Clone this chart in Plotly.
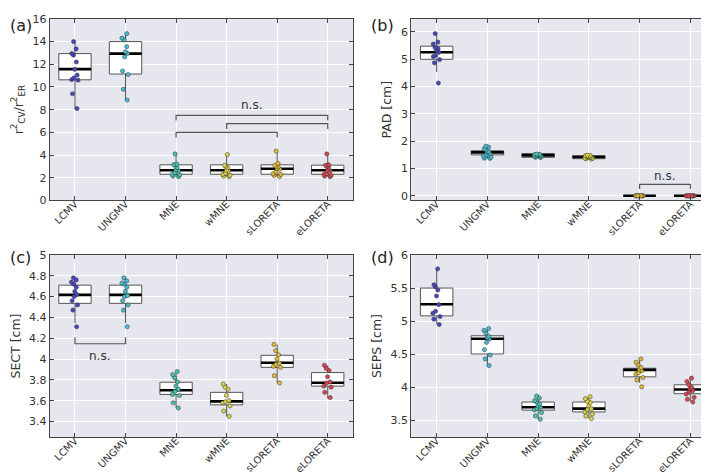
import plotly.graph_objects as go

METHODS = ["LCMV", "UNGMV", "MNE", "wMNE", "sLORETA", "eLORETA"]
COLORS = ["#4646c4", "#44bcd6", "#44c4b4", "#dcd444", "#e2bc34", "#dc4452"]

# ---------------- panel (a): r2_CV / r2_ER ----------------
A_PTS = [
    [14.0, 13.35, 12.95, 12.8, 12.2, 11.55, 11.05, 10.8, 10.65, 10.6, 9.4, 8.1],
    [14.7, 14.3, 14.15, 13.55, 13.1, 12.95, 12.65, 11.4, 11.1, 9.8, 8.85],
    [4.1, 3.2, 3.15, 3.1, 2.9, 2.7, 2.6, 2.45, 2.3, 2.25, 2.15, 2.1],
    [4.05, 3.1, 3.0, 2.9, 2.65, 2.6, 2.4, 2.3, 2.2, 2.15, 2.1],
    [4.35, 3.25, 3.1, 3.0, 2.95, 2.8, 2.75, 2.5, 2.35, 2.3, 2.2, 2.1],
    [4.1, 3.15, 3.1, 3.0, 2.9, 2.65, 2.6, 2.35, 2.3, 2.2, 2.15, 2.1],
]
A_Q1 = [10.63, 11.14, 2.31, 2.31, 2.31, 2.31]
A_MED = [11.57, 12.94, 2.66, 2.66, 2.8, 2.66]
A_Q3 = [12.94, 14.0, 3.14, 3.14, 3.14, 3.11]
A_LO = [8.09, 8.83, 2.1, 2.1, 2.1, 2.1]
A_HI = [14.0, 14.71, 4.09, 4.08, 4.34, 4.1]

# ---------------- panel (b): PAD ----------------
B_PTS = [
    [5.94, 5.63, 5.56, 5.43, 5.39, 5.32, 5.25, 5.13, 5.1, 4.99, 4.87, 4.13],
    [1.82, 1.78, 1.72, 1.68, 1.62, 1.6, 1.55, 1.5, 1.45, 1.42, 1.38, 1.37],
    [1.53, 1.52, 1.51, 1.5, 1.49, 1.48, 1.47, 1.46, 1.44, 1.43, 1.41, 1.4],
    [1.49, 1.48, 1.47, 1.45, 1.43, 1.42, 1.41, 1.4, 1.38, 1.37, 1.36, 1.35],
    [0.0, 0.0, 0.0, 0.0, 0.0, 0.0, 0.0, 0.0, 0.0, 0.0, 0.0, 0.0],
    [0.0, 0.0, 0.0, 0.0, 0.0, 0.0, 0.0, 0.0, 0.0, 0.0, 0.0, 0.0],
]
B_Q1 = [5.0, 1.5, 1.41, 1.36, 0.0, 0.0]
B_MED = [5.26, 1.59, 1.48, 1.42, 0.0, 0.0]
B_Q3 = [5.48, 1.65, 1.55, 1.47, 0.0, 0.0]
B_LO = [4.53, 1.37, 1.4, 1.35, 0.0, 0.0]
B_HI = [5.94, 1.82, 1.53, 1.49, 0.0, 0.0]

# ---------------- panel (c): SECT ----------------
C_PTS = [
    [4.78, 4.76, 4.74, 4.72, 4.69, 4.65, 4.62, 4.6, 4.56, 4.52, 4.47, 4.31],
    [4.78, 4.75, 4.73, 4.72, 4.69, 4.65, 4.61, 4.6, 4.56, 4.52, 4.47, 4.31],
    [3.88, 3.85, 3.82, 3.78, 3.74, 3.71, 3.69, 3.66, 3.65, 3.58, 3.53],
    [3.76, 3.73, 3.71, 3.65, 3.6, 3.59, 3.58, 3.55, 3.5, 3.45],
    [4.14, 4.08, 4.04, 4.0, 3.96, 3.95, 3.93, 3.92, 3.84, 3.77],
    [3.94, 3.91, 3.89, 3.83, 3.78, 3.77, 3.74, 3.73, 3.68, 3.63],
]
C_Q1 = [4.535, 4.535, 3.66, 3.56, 3.92, 3.74]
C_MED = [4.616, 4.616, 3.70, 3.593, 3.965, 3.773]
C_Q3 = [4.71, 4.71, 3.777, 3.68, 4.036, 3.87]
C_LO = [4.345, 4.345, 3.53, 3.45, 3.77, 3.62]
C_HI = [4.79, 4.78, 3.877, 3.76, 4.14, 3.94]

# ---------------- panel (d): SEPS ----------------
D_PTS = [
    [5.79, 5.55, 5.52, 5.47, 5.38, 5.25, 5.15, 5.12, 5.07, 5.03, 4.95],
    [4.89, 4.86, 4.82, 4.77, 4.75, 4.73, 4.68, 4.57, 4.49, 4.43, 4.33],
    [3.87, 3.84, 3.8, 3.78, 3.75, 3.72, 3.7, 3.68, 3.66, 3.62, 3.57, 3.52],
    [3.86, 3.83, 3.79, 3.77, 3.72, 3.68, 3.67, 3.63, 3.6, 3.57, 3.53],
    [4.43, 4.38, 4.34, 4.3, 4.27, 4.25, 4.22, 4.2, 4.15, 4.11, 4.01],
    [4.14, 4.09, 4.04, 4.0, 3.98, 3.95, 3.93, 3.9, 3.85, 3.82, 3.78],
]
D_Q1 = [5.08, 4.505, 3.657, 3.63, 4.16, 3.905]
D_MED = [5.255, 4.735, 3.70, 3.68, 4.265, 3.97]
D_Q3 = [5.5, 4.78, 3.78, 3.78, 4.29, 4.04]
D_LO = [4.96, 4.33, 3.52, 3.53, 4.07, 3.79]
D_HI = [5.79, 4.89, 3.887, 3.86, 4.43, 4.15]

Y_TITLES = ["r<sup>2</sup><sub>CV</sub>/r<sup>2</sup><sub>ER</sub>", "PAD [cm]", "SECT [cm]", "SEPS [cm]"]
PANEL_LABELS = ["(a)", "(b)", "(c)", "(d)"]

# brackets: (panel, from, to, bar y, leg end y)
BRACKETS = [
    (0, 2, 5, 7.5, 7.05),
    (0, 3, 5, 6.77, 6.3),
    (0, 2, 4, 6.0, 5.55),
    (1, 4, 5, 0.42, 0.25),
    (2, 0, 1, 4.147, 4.21),
]
NS_TEXT = [(0, 3.5, 8.45), (1, 4.5, 0.73), (2, 0.5, 4.03)]

PANELS = [
    (A_PTS, A_Q1, A_MED, A_Q3, A_LO, A_HI),
    (B_PTS, B_Q1, B_MED, B_Q3, B_LO, B_HI),
    (C_PTS, C_Q1, C_MED, C_Q3, C_LO, C_HI),
    (D_PTS, D_Q1, D_MED, D_Q3, D_LO, D_HI),
]

W, H = 709, 476
BW = 0.64
X_DOMAINS = [(41.7 / W, 345 / W), (403.3 / W, 707.7 / W), (41.7 / W, 345 / W), (403.3 / W, 707.7 / W)]
Y_DOMAINS = [(1 - 191.7 / H, 1 - 5 / H), (1 - 191.7 / H, 1 - 5 / H), (1 - 435 / H, 1 - 247.7 / H), (1 - 435 / H, 1 - 247.7 / H)]
Y_RANGES = [[0, 16], [-0.17, 6.48], [3.25, 5.0], [3.25, 6.0]]
Y_DTICK = [2, 1, 0.2, 0.5]
Y_TICK0 = [0, 0, 3.4, 3.5]

FONT = "DejaVu Sans"
fig = go.Figure()

for k, (pts, q1, med, q3, lo, hi) in enumerate(PANELS):
    xa = "x" if k == 0 else f"x{k+1}"
    ya = "y" if k == 0 else f"y{k+1}"
    for i, name in enumerate(METHODS):
        # box body + whiskers
        fig.add_trace(go.Box(
            x=[i], q1=[q1[i]], median=[med[i]], q3=[q3[i]],
            lowerfence=[lo[i]], upperfence=[hi[i]],
            width=BW, whiskerwidth=0, fillcolor="white",
            line=dict(color="#555555", width=1), boxpoints=False,
            xaxis=xa, yaxis=ya, showlegend=False, hoverinfo="skip"))
        # thick black median
        fig.add_trace(go.Box(
            x=[i], q1=[med[i]], median=[med[i]], q3=[med[i]],
            lowerfence=[med[i]], upperfence=[med[i]],
            width=BW, whiskerwidth=0, fillcolor="rgba(0,0,0,0)",
            line=dict(color="black", width=2.6), boxpoints=False,
            xaxis=xa, yaxis=ya, showlegend=False, hoverinfo="skip"))
        # jittered points
        fig.add_trace(go.Box(
            x=[i] * len(pts[i]), y=pts[i], boxpoints="all", jitter=0.3, pointpos=0,
            width=BW, fillcolor="rgba(0,0,0,0)",
            line=dict(color="rgba(0,0,0,0)", width=0),
            marker=dict(color=COLORS[i], size=4.2, line=dict(color="#333333", width=0.5)),
            xaxis=xa, yaxis=ya, showlegend=False, hoverinfo="skip"))

for (k, i, j, yb, yl) in BRACKETS:
    xa = "x" if k == 0 else f"x{k+1}"
    ya = "y" if k == 0 else f"y{k+1}"
    fig.add_trace(go.Scatter(
        x=[i, i, j, j], y=[yl, yb, yb, yl], mode="lines",
        line=dict(color="#555555", width=1.2), xaxis=xa, yaxis=ya,
        showlegend=False, hoverinfo="skip"))

annotations = []
for (k, xv, yv) in NS_TEXT:
    xa = "x" if k == 0 else f"x{k+1}"
    ya = "y" if k == 0 else f"y{k+1}"
    annotations.append(dict(x=xv, y=yv, xref=xa, yref=ya, text="n.s.", showarrow=False,
                            font=dict(family=FONT, size=12, color="#333333")))

LABEL_POS = [(0.0, 1 - 12 / H), (361 / W, 1 - 12 / H), (0.0, 1 - 250 / H), (361 / W, 1 - 250 / H)]
for k, lab in enumerate(PANEL_LABELS):
    annotations.append(dict(x=LABEL_POS[k][0], y=LABEL_POS[k][1], xref="paper", yref="paper",
                            xanchor="left", yanchor="middle", text=lab, showarrow=False,
                            font=dict(family=FONT, size=16, color="#222222")))

layout = dict(
    width=W, height=H, margin=dict(l=0, r=0, t=0, b=0),
    paper_bgcolor="white", plot_bgcolor="#e6e6ee",
    boxmode="overlay", showlegend=False,
    font=dict(family=FONT, size=11, color="#333333"),
    annotations=annotations,
)
for k in range(4):
    xk = "xaxis" if k == 0 else f"xaxis{k+1}"
    yk = "yaxis" if k == 0 else f"yaxis{k+1}"
    ya = "y" if k == 0 else f"y{k+1}"
    xa = "x" if k == 0 else f"x{k+1}"
    layout[xk] = dict(
        domain=list(X_DOMAINS[k]), anchor=ya, range=[-0.5, 5.5],
        tickmode="array", tickvals=list(range(6)), ticktext=METHODS, tickangle=-45,
        ticks="inside", ticklen=4, tickcolor="#444444", showline=True, linecolor="#444444",
        linewidth=1, mirror="ticks", showgrid=True, gridcolor="white", gridwidth=1,
        ticklabelstandoff=-7,
        zeroline=False, tickfont=dict(family=FONT, size=10, color="#333333"), fixedrange=True)
    layout[yk] = dict(
        domain=list(Y_DOMAINS[k]), anchor=xa, range=Y_RANGES[k],
        tick0=Y_TICK0[k], dtick=Y_DTICK[k],
        ticks="inside", ticklen=4, tickcolor="#444444", showline=True, linecolor="#444444",
        linewidth=1, mirror="ticks", showgrid=True, gridcolor="white", gridwidth=1,
        zeroline=False, tickfont=dict(family=FONT, size=11, color="#333333"),
        title=dict(text=Y_TITLES[k], font=dict(family=FONT, size=12.5, color="#333333"), standoff=6),
        fixedrange=True)

fig.update_layout(**layout)
fig.write_html("out.html")
